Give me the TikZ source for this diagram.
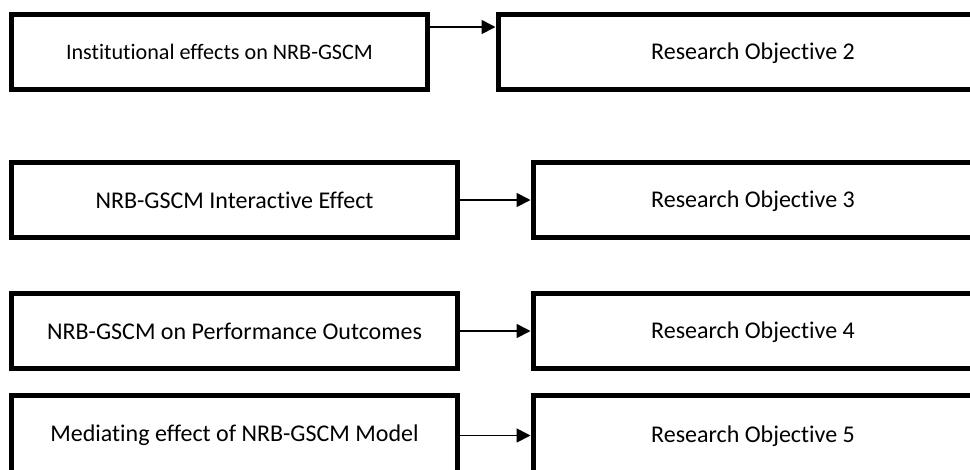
\documentclass[tikz,border=0pt]{standalone}
\usepackage{fontspec}
\setmainfont[Ligatures={NoCommon,NoRare,NoContextual},RawFeature={-liga;-dlig;-clig;-calt}]{Carlito}
\usetikzlibrary{arrows.meta}
\tikzset{
  box/.style={draw, line width=3.75pt, rectangle, inner sep=0pt,
    minimum height=56.25pt},
  txt/.style={font=\fontsize{18}{22}\selectfont},
  conn/.style={line width=1.3pt, -{Triangle[length=10.5pt,width=10.5pt]}}
}
\begin{document}
\begin{tikzpicture}[x=0.75pt,y=-0.75pt]
      \useasboundingbox (0,0) rectangle (970,469);
      \clip (0,0) rectangle (970,469);
      % left column
      \node[box,txt,font=\fontsize{16.6}{20}\selectfont,minimum width=312pt] (ins) at (219.5,52) {Institutional effects on NRB-GSCM};
      \node[box,txt,minimum width=334.5pt] (int) at (234.5,200) {NRB-GSCM Interactive Effect};
      \node[box,txt,minimum width=334.5pt] (per) at (234.5,331) {NRB-GSCM on Performance Outcomes};
      \node[box,txt,minimum width=334.5pt,minimum height=60pt] (med) at (234.5,435.5) {Mediating effect of NRB-GSCM Model};
      % right column, boxes run off the page
      \node[box,anchor=west,minimum width=386pt] (ro2) at (495.5,52) {};
      \node[box,anchor=west,minimum width=360pt] (ro3) at (530.5,200) {};
      \node[box,anchor=west,minimum width=360pt] (ro4) at (530.5,331) {};
      \node[box,anchor=west,minimum width=360pt,minimum height=60pt] (ro5) at (530.5,435.5) {};
      \node[txt] (t2) at (753,53) {Research Objective 2};
      \node[txt] (t3) at (753,201) {Research Objective 3};
      \node[txt] (t4) at (753,332) {Research Objective 4};
      \node[txt] (t5) at (753,436) {Research Objective 5};
      \begin{scope}[conn]
        \draw ([yshift=18.75pt]ins.east) to ([yshift=18.75pt]ro2.west);
        \draw (int) to (ro3);
        \draw (per) to (ro4);
        \draw (med) to (ro5);
      \end{scope}
    \end{tikzpicture}
\end{document}
